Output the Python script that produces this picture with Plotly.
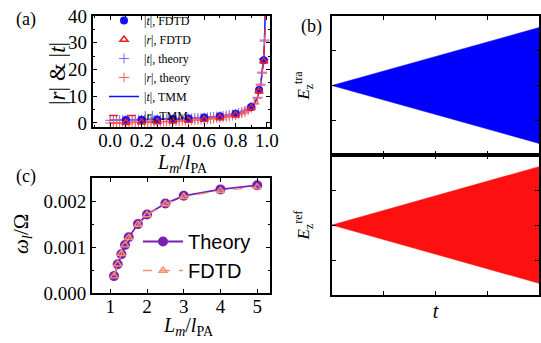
import plotly.graph_objects as go

# ---------------- data ----------------
# panel (a)
lm_fdtd = [0.1, 0.2, 0.3, 0.4, 0.5, 0.6, 0.7, 0.8, 0.9, 0.95, 0.98]
t_fdtd = [1.10, 1.20, 1.31, 1.48, 1.70, 2.02, 2.52, 3.45, 6.0, 12.3, 23.5]
r_fdtd = [0.12, 0.25, 0.41, 0.63, 0.92, 1.32, 1.92, 2.97, 5.65, 11.9, 23.1]

lm_th = [0.00, 0.02, 0.04, 0.06, 0.08, 0.10, 0.12, 0.14, 0.16, 0.18,
         0.20, 0.22, 0.24, 0.26, 0.28, 0.30, 0.32, 0.34, 0.36, 0.38,
         0.40, 0.42, 0.44, 0.46, 0.48, 0.50, 0.52, 0.54, 0.56, 0.58,
         0.60, 0.62, 0.64, 0.66, 0.68, 0.70, 0.72, 0.74, 0.76, 0.78,
         0.80, 0.82, 0.84, 0.86, 0.88, 0.90, 0.92, 0.94, 0.96, 0.97,
         0.98, 0.985, 0.99]
t_th = [1.00, 1.02, 1.04, 1.06, 1.08, 1.10, 1.12, 1.14, 1.16, 1.18,
        1.20, 1.22, 1.24, 1.26, 1.28, 1.31, 1.34, 1.37, 1.40, 1.44,
        1.48, 1.52, 1.56, 1.60, 1.65, 1.70, 1.76, 1.82, 1.88, 1.95,
        2.02, 2.10, 2.19, 2.29, 2.40, 2.52, 2.66, 2.82, 3.00, 3.21,
        3.45, 3.75, 4.10, 4.55, 5.15, 6.00, 7.40, 9.60, 14.5, 19.0,
        24.0, 31.0, 42.0]
r_th = [0.00, 0.02, 0.04, 0.07, 0.09, 0.12, 0.14, 0.17, 0.19, 0.22,
        0.25, 0.28, 0.31, 0.34, 0.37, 0.41, 0.45, 0.49, 0.53, 0.58,
        0.63, 0.68, 0.73, 0.79, 0.85, 0.92, 0.99, 1.06, 1.14, 1.23,
        1.32, 1.42, 1.53, 1.65, 1.78, 1.92, 2.08, 2.26, 2.46, 2.70,
        2.97, 3.30, 3.68, 4.16, 4.78, 5.65, 7.05, 9.25, 14.1, 18.6,
        23.6, 30.6, 41.6]

# panel (c)
lm_c = [1.1, 1.2, 1.3, 1.4, 1.5, 1.75, 2.0, 2.5, 3.0, 4.0, 5.0]
w_theory = [0.00037, 0.00063, 0.00085, 0.00105, 0.00122, 0.00151, 0.00172,
            0.00196, 0.00213, 0.00227, 0.00236]
w_fdtd = [0.00037, 0.00063, 0.00086, 0.00105, 0.00121, 0.00150, 0.00171,
          0.00195, 0.00211, 0.00224, 0.00232]

# panel (b): linear envelope of field growth
t_env = [0.0, 4.0]
amp_tra = [0.0, 1.0]
amp_ref = [0.0, 1.0]

# ---------------- figure ----------------
SERIF = "Liberation Serif"
BLUE = "#1010ff"
RED = "#ee2222"
PURPLE = "#7a1fb4"
SALMON = "#f29070"

fig = go.Figure()

# (a)
fig.add_trace(go.Scatter(x=lm_th, y=t_th, mode="lines", name="|<i>t</i>|, TMM",
                         line=dict(color=BLUE, width=1.5), xaxis="x", yaxis="y",
                         legend="legend", legendrank=5))
fig.add_trace(go.Scatter(x=lm_th, y=r_th, mode="lines", name="|<i>r</i>|, TMM",
                         line=dict(color=RED, width=1.5, dash="dash"), xaxis="x", yaxis="y",
                         legend="legend", legendrank=6))
fig.add_trace(go.Scatter(x=lm_th, y=t_th, mode="markers", name="|<i>t</i>|, theory",
                         marker=dict(symbol="cross-thin", size=7, color="#6a6aff",
                                     line=dict(color="#6a6aff", width=1)),
                         xaxis="x", yaxis="y", legend="legend", legendrank=3))
fig.add_trace(go.Scatter(x=lm_th, y=r_th, mode="markers", name="|<i>r</i>|, theory",
                         marker=dict(symbol="cross-thin", size=7, color="#ff5a5a",
                                     line=dict(color="#ff5a5a", width=1)),
                         xaxis="x", yaxis="y", legend="legend", legendrank=4))
fig.add_trace(go.Scatter(x=lm_fdtd, y=t_fdtd, mode="markers", name="|<i>t</i>|, FDTD",
                         marker=dict(symbol="circle", size=8, color=BLUE),
                         xaxis="x", yaxis="y", legend="legend", legendrank=1))
fig.add_trace(go.Scatter(x=lm_fdtd, y=r_fdtd, mode="markers", name="|<i>r</i>|, FDTD",
                         marker=dict(symbol="triangle-up-open", size=7, color=RED,
                                     line=dict(color=RED, width=1.6)),
                         xaxis="x", yaxis="y", legend="legend", legendrank=2))

# (c)
fig.add_trace(go.Scatter(x=lm_c, y=w_theory, mode="lines+markers", name="Theory",
                         line=dict(color=PURPLE, width=1.8),
                         marker=dict(symbol="circle", size=10, color=PURPLE),
                         xaxis="x2", yaxis="y2", legend="legend2"))
fig.add_trace(go.Scatter(x=lm_c, y=w_fdtd, mode="lines+markers", name="FDTD",
                         line=dict(color=SALMON, width=1.3, dash="dash"),
                         marker=dict(symbol="triangle-up-open", size=7, color=SALMON,
                                     line=dict(color=SALMON, width=1.4)),
                         xaxis="x2", yaxis="y2", legend="legend2"))

# (b) envelopes
def envelope(t, a):
    xs = list(t) + list(t)[::-1]
    ys = list(a) + [-v for v in list(a)[::-1]]
    return xs, ys

xs, ys = envelope(t_env, amp_tra)
fig.add_trace(go.Scatter(x=xs, y=ys, mode="lines", fill="toself", fillcolor="#0000ff",
                         line=dict(color="#0000ff", width=0.5), showlegend=False,
                         xaxis="x3", yaxis="y3"))
xs, ys = envelope(t_env, amp_ref)
fig.add_trace(go.Scatter(x=xs, y=ys, mode="lines", fill="toself", fillcolor="#ff1010",
                         line=dict(color="#ff1010", width=0.5), showlegend=False,
                         xaxis="x4", yaxis="y4"))

W, H = 541, 343
def dx(a, b):
    return [a / W, b / W]
def dy(top, bottom):
    return [(H - bottom) / H, (H - top) / H]
def px(x):
    return x / W
def py(y):
    return 1 - y / H

TICKFONT = dict(family=SERIF, size=19, color="black")
axis_common = dict(showline=True, linecolor="black", mirror="ticks", ticks="inside",
                   tickcolor="black", showgrid=False, zeroline=False, tickfont=TICKFONT,
                   automargin=False)
MINOR = dict(ticks="inside", ticklen=2, tickcolor="black")
LM_TITLE = "<i>L</i><sub><i>m</i></sub>/<i>l</i><sub>PA</sub>"


def label(text, x, y, size, angle=0):
    return dict(text=text, x=px(x), y=py(y), xref="paper", yref="paper",
                xanchor="center", yanchor="middle", textangle=angle,
                showarrow=False, font=dict(family=SERIF, size=size, color="black"))


fig.update_layout(
    width=W, height=H, margin=dict(l=0, r=0, t=0, b=0, pad=0, autoexpand=False),
    autosize=False,
    paper_bgcolor="white", plot_bgcolor="white",
    font=dict(family=SERIF, color="black"),
    xaxis=dict(axis_common, domain=dx(93, 270), anchor="y", range=[-0.11, 1.02],
               tickvals=[0, 0.2, 0.4, 0.6, 0.8, 1.0],
               ticktext=["0.0", "0.2", "0.4", "0.6", "0.8", "1.0"],
               linewidth=2.2, ticklen=4, minor=dict(MINOR, dtick=0.1, tick0=0),
               ticklabelstandoff=-5),
    yaxis=dict(axis_common, domain=dy(16, 127), anchor="x", range=[-1.5, 40],
               tickvals=[0, 10, 20, 30, 40], linewidth=2.2, ticklen=4,
               minor=dict(MINOR, dtick=5, tick0=0)),
    xaxis2=dict(axis_common, domain=dx(92, 270), anchor="y2", range=[0.5, 5.35],
                tickvals=[1, 2, 3, 4, 5], linewidth=1.8, ticklen=4,
                ticklabelstandoff=-5),
    yaxis2=dict(axis_common, domain=dy(178, 293), anchor="x2", range=[0, 0.00252],
                tickvals=[0, 0.001, 0.002], ticktext=["0.000", "0.001", "0.002"],
                linewidth=1.8, ticklen=4, minor=dict(MINOR, dtick=0.0005, tick0=0)),
    xaxis3=dict(axis_common, domain=dx(332, 539), anchor="y3", range=[0, 4],
                tickvals=[1, 2, 3], showticklabels=False, linewidth=1.5, ticklen=4),
    yaxis3=dict(axis_common, domain=dy(16, 155), anchor="x3", range=[-1.2, 1.2],
                tickvals=[-0.6, 0, 0.6], showticklabels=False, linewidth=1.5, ticklen=4,
                title=dict(text="<i>E</i><sub>z</sub><sup>tra</sup>",
                           font=dict(family=SERIF, size=17), standoff=16)),
    xaxis4=dict(axis_common, domain=dx(332, 539), anchor="y4", range=[0, 4],
                tickvals=[1, 2, 3], showticklabels=False, linewidth=1.5, ticklen=4,
                title=dict(text="<i>t</i>", font=dict(family=SERIF, size=20), standoff=8)),
    yaxis4=dict(axis_common, domain=dy(155, 295), anchor="x4", range=[-1.2, 1.2],
                tickvals=[-0.6, 0, 0.6], showticklabels=False, linewidth=1.5, ticklen=4,
                title=dict(text="<i>E</i><sub>z</sub><sup>ref</sup>",
                           font=dict(family=SERIF, size=17), standoff=16)),
    legend=dict(x=104 / W, y=py(6), xanchor="left", yanchor="top",
                bgcolor="rgba(0,0,0,0)", font=dict(family=SERIF, size=12),
                itemwidth=30, tracegroupgap=0, traceorder="normal", maxheight=300),
    legend2=dict(x=138 / W, y=py(222), xanchor="left", yanchor="top",
                 bgcolor="rgba(0,0,0,0)", font=dict(family="Liberation Sans", size=20),
                 itemwidth=40, tracegroupgap=0, maxheight=300),
    annotations=[
        label("(a)", 26, 20, 18),
        label("(b)", 311, 26, 18),
        label("(c)", 26, 176, 18),
        label("|<i>r</i>| &amp; |<i>t</i>|", 58, 74, 23, angle=-90),
        label(LM_TITLE, 182, 163, 20),
        label("<i>ω</i><sub><i>l</i></sub>/Ω", 22, 234, 21, angle=-90),
        label(LM_TITLE, 188, 326, 20),
    ],
)

fig.write_html("out.html",
               config={"responsive": False, "displayModeBar": False},
               post_script="document.body.style.margin='0';document.body.style.overflow='hidden';")
